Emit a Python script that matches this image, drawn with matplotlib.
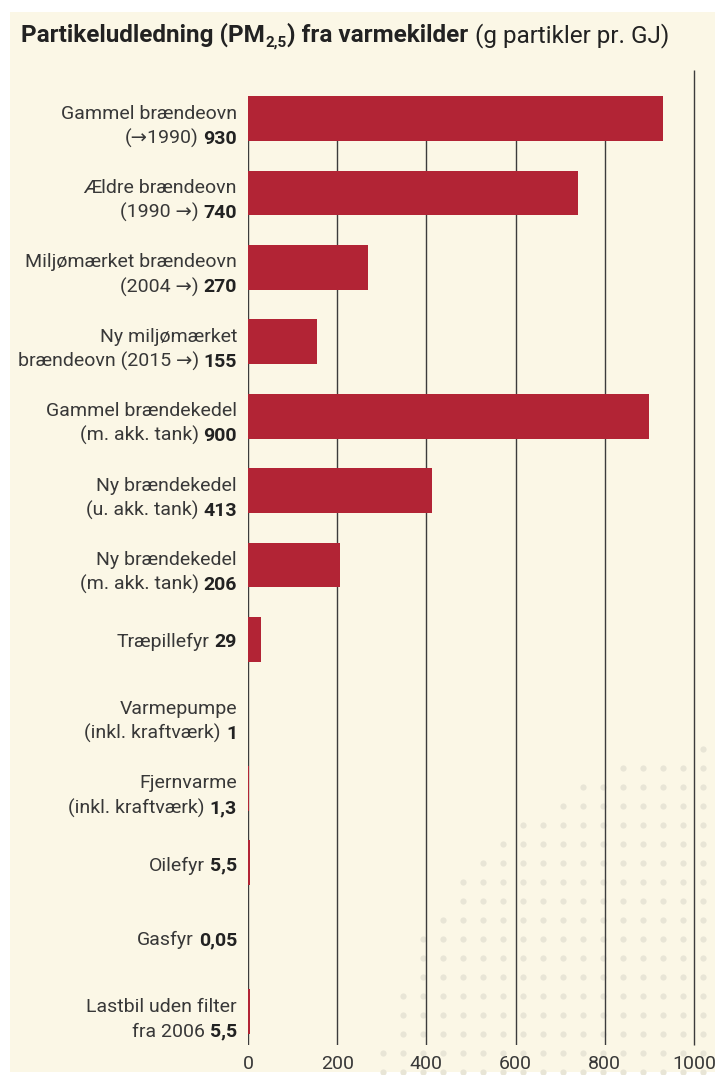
import matplotlib
matplotlib.use('Agg')
import matplotlib.pyplot as plt
import numpy as np

# data
names = ['Gammel brændeovn\n(\u21921990)',
         'Ældre brændeovn\n(1990 \u2192)',
         'Miljømærket brændeovn\n(2004 \u2192)',
         'Ny miljømærket\nbrændeovn (2015 \u2192)',
         'Gammel brændekedel\n(m. akk. tank)',
         'Ny brændekedel\n(u. akk. tank)',
         'Ny brændekedel\n(m. akk. tank)',
         'Træpillefyr',
         'Varmepumpe\n(inkl. kraftværk)',
         'Fjernvarme\n(inkl. kraftværk)',
         'Oilefyr',
         'Gasfyr',
         'Lastbil uden filter\nfra 2006']
values = [930, 740, 270, 155, 900, 413, 206, 29, 1, 1.3, 5.5, 0.05, 5.5]
ticks = [0, 200, 400, 600, 800, 1000]

# style
font = ['Roboto', 'DejaVu Sans']
bar_color = '#B22435'
cream = '#FBF7E6'
dot_color = '#E8E5D6'
text_color = '#383838'
W, H = 722, 1075

plt.rcParams['font.family'] = font


def fmt(v):
    return ('%g' % v).replace('.', ',')


def main():
    fig = plt.figure(figsize=(W / 100, H / 100), dpi=100, facecolor='white')

    # background layer in pixel coordinates
    bg = fig.add_axes([0, 0, 1, 1], zorder=0)
    bg.set_xlim(0, W)
    bg.set_ylim(H, 0)
    bg.axis('off')
    bg.add_patch(plt.Rectangle((10, 12), 705, 1060, color=cream, lw=0))

    # decorative dots, bottom right
    gx, gy = np.meshgrid(np.arange(383.3, 716, 20), np.arange(749, 1073, 19))
    mask = np.hypot(gx - 760, gy - 1130) < 388
    bg.scatter(gx[mask], gy[mask], s=20, color=dot_color, lw=0)

    ax = fig.add_axes([248 / W, (H - 1045) / H, 446 / W, 975 / H], zorder=1)
    ax.patch.set_visible(False)
    y = np.arange(len(values))
    ax.barh(y, values, height=0.6, color=bar_color, lw=0, zorder=3)
    ax.set_xlim(0, 1000)
    ax.set_ylim(12.45, -0.652)
    ax.vlines(ticks[:-1], -0.3, 12.45, colors='#3c3c3c', lw=1, zorder=2)
    ax.vlines(ticks[-1], -0.652, 12.45, colors='#3c3c3c', lw=1, zorder=2, clip_on=False)
    for s in ax.spines.values():
        s.set_visible(False)
    ax.set_yticks([])
    ax.set_xticks(ticks)
    ax.tick_params(axis='x', length=0, pad=7, labelsize=14, labelcolor=text_color)

    fig.canvas.draw()
    r = fig.canvas.get_renderer()

    # category labels, value in bold
    for i, (name, v) in enumerate(zip(names, values)):
        lines = name.split('\n')
        if len(lines) == 2:
            ax.annotate(lines[0], (0, i), xytext=(-11, 0), textcoords='offset pixels',
                        ha='right', va='baseline', fontsize=14, color=text_color)
            dy = -25
        else:
            dy = -8
        b = ax.annotate(fmt(v), (0, i), xytext=(-11, dy), textcoords='offset pixels',
                        ha='right', va='baseline', fontsize=14, fontweight='bold',
                        color='#222222')
        w = b.get_window_extent(r).width
        ax.annotate(lines[-1], (0, i), xytext=(-11 - w - 5, dy), textcoords='offset pixels',
                    ha='right', va='baseline', fontsize=14, color=text_color)

    # title, pieces chained left to right
    pieces = [('Partikeludledning (PM', 'bold', 17.5, 0, 0),
              ('2,5', 'bold', 11, 5, 1),
              (') fra varmekilder', 'bold', 17.5, 0, 0),
              ('(g partikler pr. GJ)', 'normal', 17.5, 0, 7)]
    x = 21
    for s, wt, size, drop, gap in pieces:
        x += gap
        t = bg.text(x, 42 + drop, s, fontsize=size, fontweight=wt, color='#222222',
                    ha='left', va='baseline')
        x += t.get_window_extent(r).width

    fig.savefig('out.png', dpi=100, facecolor='white')


if __name__ == '__main__':
    main()
